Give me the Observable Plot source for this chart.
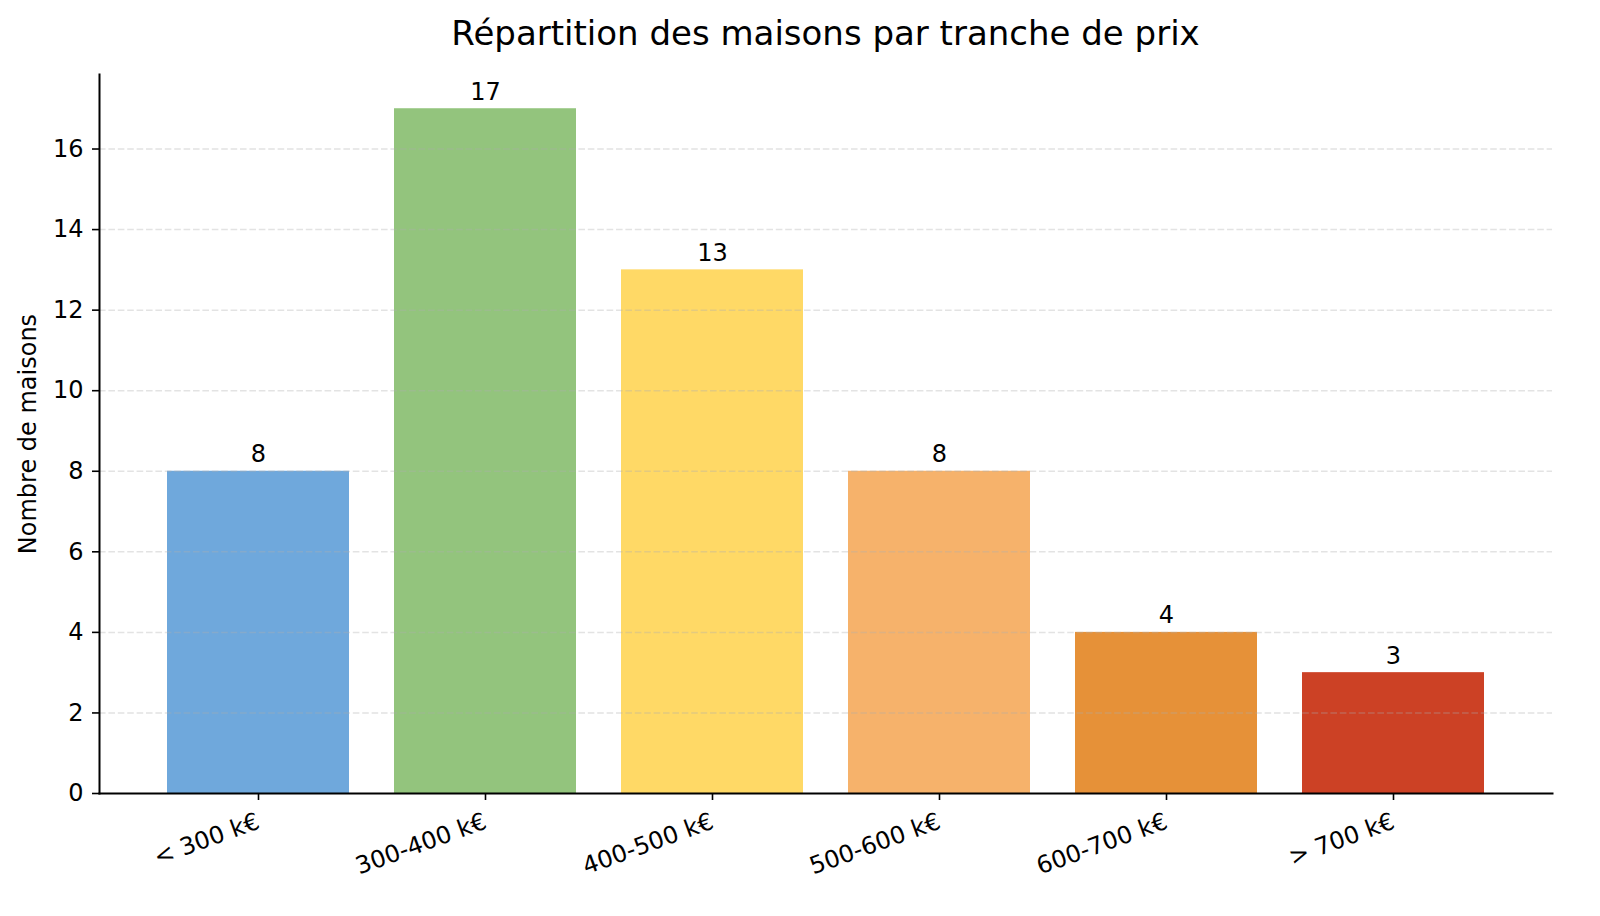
<!DOCTYPE html>
<html>
<head>
<meta charset="utf-8">
<script src="https://cdn.jsdelivr.net/npm/d3@7"></script>
<script src="https://cdn.jsdelivr.net/npm/@observablehq/plot@0.6"></script>
<style>
  html, body { margin: 0; padding: 0; background: #fff; overflow: hidden; }
  #title { height: 64px; box-sizing: border-box; padding: 12px 48px 0 99px; text-align: center;
           font-family: "DejaVu Sans", sans-serif; font-size: 34px; color: #000; line-height: 42px; white-space: nowrap; }
  svg { display: block; max-width: none !important; }
</style>
</head>
<body>
<div id="title">Répartition des maisons par tranche de prix</div>
<div id="chart"></div>
<script>
const categories = ["< 300 k€", "300-400 k€", "400-500 k€", "500-600 k€", "600-700 k€", "> 700 k€"];
const counts = [8, 17, 13, 8, 4, 3];
const colors = ["#6fa8dc", "#93c47d", "#ffd966", "#f6b26b", "#e69138", "#cc4125"];
const yTicks = [0, 2, 4, 6, 8, 10, 12, 14, 16];

const data = categories.map((c, i) => ({cat: c, n: counts[i], color: colors[i]}));

const chart = Plot.plot({
  width: 1600,
  height: 852,
  marginLeft: 99,
  marginRight: 48,
  marginTop: 10,
  marginBottom: 123,
  style: {fontFamily: "DejaVu Sans, sans-serif", fontSize: "24px", color: "#000", background: "#fff", maxWidth: "none"},
  x: {domain: categories, paddingInner: 0.2, paddingOuter: 0.29, label: null},
  y: {domain: [0, 17.85], label: null},
  marks: [
    Plot.barY(data, {x: "cat", y: "n", fill: "color"}),
    Plot.gridY(yTicks.filter(d => d > 0), {stroke: "#b0b0b0", strokeOpacity: 0.35, strokeWidth: 1.5, strokeDasharray: "6.6,2.8"}),
    Plot.text(data, {x: "cat", y: "n", text: d => String(d.n), lineAnchor: "bottom", dy: -9, fill: "#000", fontSize: 24}),
    Plot.axisY({ticks: yTicks, tickSize: 7, tickPadding: 9, tickFormat: d => String(d), fontSize: 24, label: null, strokeWidth: 1.6}),
    Plot.axisX({tickSize: 7, tickPadding: 20, tickRotate: -20, fontSize: 24, label: null, strokeWidth: 1.6}),
    Plot.frame({anchor: "left", stroke: "#000", strokeWidth: 2}),
    Plot.frame({anchor: "bottom", stroke: "#000", strokeWidth: 2}),
    Plot.text(["Nombre de maisons"], {frameAnchor: "left", dx: -71, rotate: -90, fontSize: 24, fill: "#000", textAnchor: "middle"})
  ]
});
document.getElementById("chart").appendChild(chart);
</script>
</body>
</html>
